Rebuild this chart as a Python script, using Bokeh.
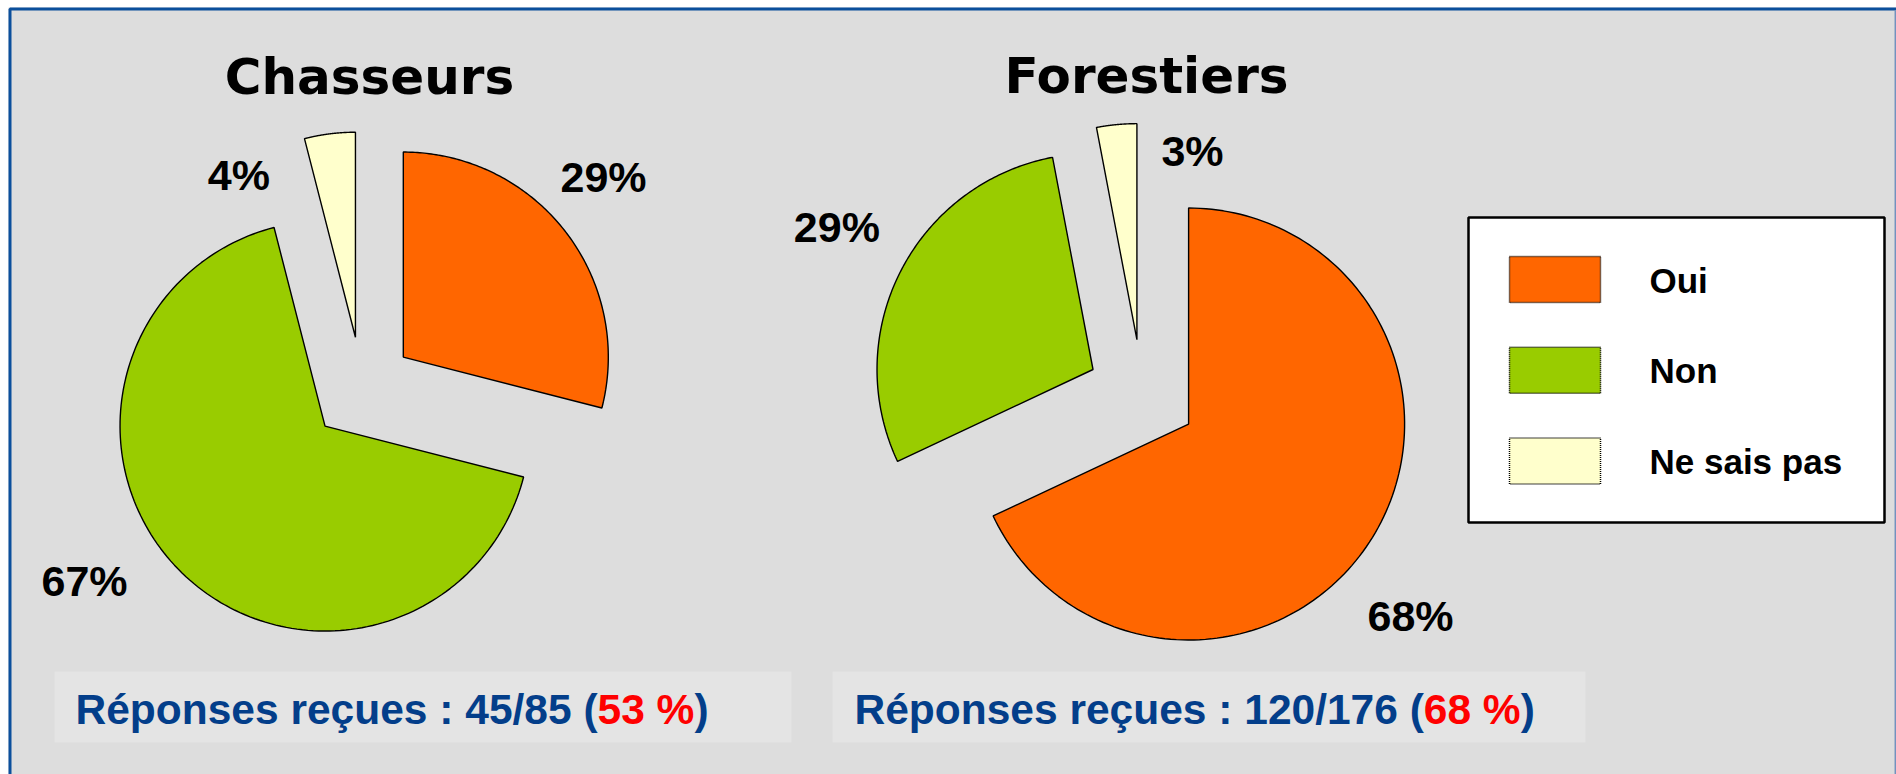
import math
import numpy as np
from bokeh.plotting import figure
from bokeh.models import Range1d
from bokeh.core.properties import value
from bokeh.embed import file_html
from bokeh.resources import INLINE

# ---------------- data ----------------
categories = ["Oui", "Non", "Ne sais pas"]
colors = ["#FF6600", "#99CC00", "#FFFFCC"]
groups = ["Chasseurs", "Forestiers"]
chasseurs_pct = [29, 67, 4]
forestiers_pct = [68, 29, 3]
received = [45, 120]
sent = [85, 176]
rate_pct = [53, 68]

# ---------------- layout (page pixels) ----------------
W, H = 1896, 774
pie_centers = [(361.5, 388.6), (1141.6, 394.0)]
pie_radius = [205, 216]
explode = 0.255
title_base = [(369, 94), (1146, 93)]
label_base = [[(603, 191.5), (84, 595.7), (238.4, 189)],
              [(1410, 630.7), (836.4, 241.9), (1192, 165.3)]]
box_x = [(54, 791), (832, 1585)]
box_y = (671, 742)
text_x = [75, 854]
text_base = 724

BG = "#DDDDDD"
BLUE = "#033E8A"
FONT = value("Liberation Sans")
FONT2 = value("DejaVu Sans")
MID = 0.347  # baseline -> middle of em box, as a fraction of font size


def mid_y(base, fs):
    return base - MID * fs


p = figure(width=W, height=H, output_backend="svg", toolbar_location=None,
           x_range=Range1d(0, W), y_range=Range1d(H, 0),
           x_axis_type=None, y_axis_type=None, min_border=0,
           background_fill_color="white", border_fill_color="white")
p.outline_line_color = None
p.min_border_left = p.min_border_right = p.min_border_top = p.min_border_bottom = 0

# panel + frame
p.quad(left=[8], right=[W], top=[7], bottom=[H], fill_color=BG, line_color=None)
p.line(x=[9.5, 9.5, W], y=[H, 8.5, 8.5], line_color="#0B4F9C", line_width=3)
p.line(x=[1894.8, 1894.8], y=[10, H], line_color="#7391BE", line_width=1.5)

# pies
for gi, vals in enumerate([chasseurs_pct, forestiers_pct]):
    cx, cy = pie_centers[gi]
    r = pie_radius[gi]
    d = explode * r
    tot = float(sum(vals))
    cum = np.concatenate([[0.0], np.cumsum(vals)]) / tot * 2 * math.pi
    xs, ys = [], []
    for i in range(len(vals)):
        a0, a1 = cum[i], cum[i + 1]
        mid = 0.5 * (a0 + a1)
        ox = cx + d * math.sin(mid)
        oy = cy - d * math.cos(mid)
        ang = np.linspace(a0, a1, 160)
        xs.append([ox] + list(ox + r * np.sin(ang)) + [ox])
        ys.append([oy] + list(oy - r * np.cos(ang)) + [oy])
    p.patches(xs=xs, ys=ys, fill_color=colors, line_color="black", line_width=1.4)

    # title
    tx, ty = title_base[gi]
    p.text(x=[tx], y=[mid_y(ty, 50)], text=[groups[gi]], text_font=FONT2,
           text_font_style="bold", text_font_size="50px", text_align="center",
           text_baseline="middle", text_color="black")
    # percent labels
    lx = [q[0] for q in label_base[gi]]
    ly = [mid_y(q[1], 43) for q in label_base[gi]]
    p.text(x=lx, y=ly, text=["%d%%" % v for v in vals], text_font=FONT,
           text_font_style="bold", text_font_size="43px", text_align="center",
           text_baseline="middle", text_color="black")

    # response box
    bx0, bx1 = box_x[gi]
    p.quad(left=[bx0], right=[bx1], top=[box_y[0]], bottom=[box_y[1]],
           fill_color="#E4E4E4", line_color=None)
    fs = 42.5
    part1 = "Réponses reçues : %d/%d (" % (received[gi], sent[gi])
    part2 = "%d %%" % rate_pct[gi]
    adv = {'R': 722, 'é': 556, 'p': 611, 'o': 611, 'n': 611, 's': 556, 'e': 556, ' ': 278,
           'r': 389, 'ç': 556, 'u': 611, ':': 333, '/': 278, '(': 333, ')': 333, '%': 889}

    def width(s):
        return sum(adv.get(c, 556) for c in s) * fs / 1000.0
    x0 = text_x[gi]
    x1 = x0 + width(part1)
    x2 = x1 + width(part2)
    p.text(x=[x0, x1, x2], y=[mid_y(text_base, fs)] * 3, text=[part1, part2, ")"],
           text_color=[BLUE, "#FF0000", BLUE], text_font=FONT, text_font_style="bold",
           text_font_size="%.1fpx" % fs, text_align="left", text_baseline="middle")

# legend
p.quad(left=[1468], right=[1884], top=[217], bottom=[522], fill_color="white",
       line_color="black", line_width=2.5)
idx = np.arange(len(categories))
sw_top = 256 + 90.8 * idx
p.quad(left=[1509] * 3, right=[1600] * 3, top=list(sw_top), bottom=list(sw_top + 46),
       fill_color=colors, line_color="black", line_width=1.5, line_dash="1 1")
p.text(x=[1649] * 3, y=[mid_y(292.2 + 90.3 * i, 35) for i in idx], text=categories,
       text_font=FONT, text_font_style="bold", text_font_size="35px", text_align="left",
       text_baseline="middle", text_color="black")

open("out.html", "w").write(file_html(p, INLINE))
